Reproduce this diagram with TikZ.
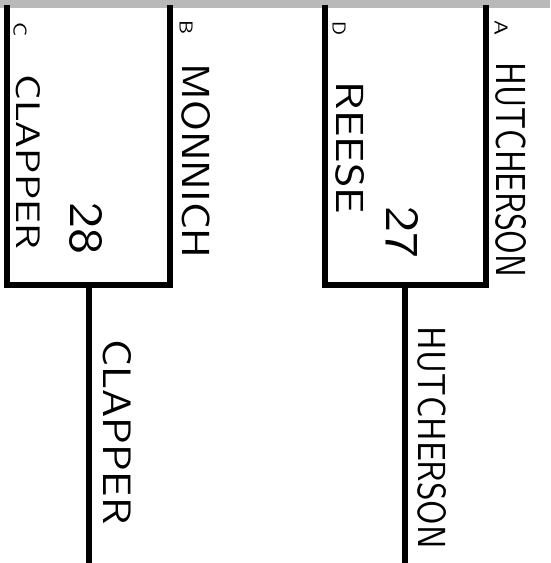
\documentclass[tikz,border=0pt]{standalone}
\usepackage{graphicx}
\tikzset{
  bracket/.style={line width=5.5pt, line cap=rect, black},
  hand/.style={rotate=-90, inner sep=0pt, text=black}
}
\newcommand{\hw}[3]{\resizebox{#1}{#2}{\sffamily #3}}
\begin{document}
\begin{tikzpicture}[x=1pt,y=-1pt]
\useasboundingbox (0,0) rectangle (550,563);
\fill[gray!55] (0,0) rectangle (550,8);
% left bracket
\coordinate (lt) at (7,8);
\coordinate (lb) at (7,285);
\coordinate (rt) at (170,8);
\coordinate (rb) at (170,285);
\coordinate (ls) at (89,285);
\coordinate (le) at (89,563);
\draw[bracket] (lt) -- (lb) -- (rb) -- (rt);
\draw[bracket, line cap=butt] (ls) -- (le);
% right bracket
\coordinate (Lt) at (325,8);
\coordinate (Lb) at (325,285);
\coordinate (Rt) at (486,8);
\coordinate (Rb) at (486,285);
\coordinate (Ls) at (405,285);
\coordinate (Le) at (405,563);
\draw[bracket] (Lt) -- (Lb) -- (Rb) -- (Rt);
\draw[bracket, line cap=butt] (Ls) -- (Le);
% seed letters
\node[hand] (sc) at (20,29) {\hw{14pt}{13pt}{C}};
\node[hand] (sb) at (186,27) {\hw{14pt}{13pt}{B}};
\node[hand] (sd) at (339,28) {\hw{14pt}{13pt}{D}};
\node[hand] (sa) at (501,28) {\hw{15pt}{13pt}{A}};
% names
\node[hand] (clap) at (28,162) {\hw{175pt}{24pt}{CLAPPER}};
\node[hand] (monn) at (196,161) {\hw{195pt}{28pt}{MONNICH}};
\node[hand] (s28) at (86,228) {\hw{52pt}{32pt}{28}};
\node[hand] (rees) at (350,148) {\hw{132pt}{28pt}{REESE}};
\node[hand] (s27) at (402,232) {\hw{52pt}{32pt}{27}};
\node[hand] (hutc) at (511,170) {\hw{215pt}{30pt}{HUTCHERSON}};
\node[hand] (wclap) at (117,432) {\hw{185pt}{28pt}{CLAPPER}};
\node[hand] (whut) at (432,438) {\hw{222pt}{28pt}{HUTCHERSON}};
\end{tikzpicture}
\end{document}
